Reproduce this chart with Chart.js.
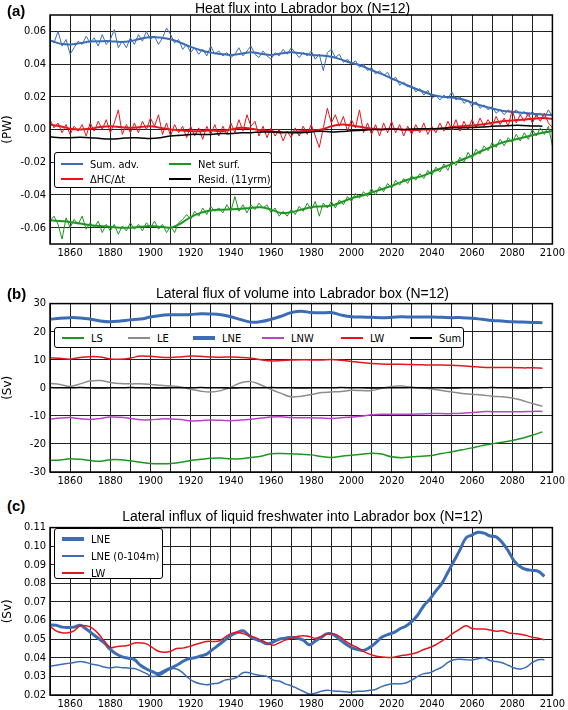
<!DOCTYPE html>
<html>
<head>
<meta charset="utf-8">
<script src="https://cdn.jsdelivr.net/npm/chart.js@4"></script>
<style>
  body { margin: 0; background: #fff; }
  #wrap { position: relative; width: 568px; height: 710px; overflow: hidden;
          font-family: "DejaVu Sans Condensed", "DejaVu Sans", sans-serif; color: #000; }
  canvas { position: absolute; left: 0; }
  .title { position: absolute; left: 50px; width: 505px; text-align: center; z-index: 2;
           font: 14px "Liberation Sans", Arial, sans-serif; line-height: 16px; }
  .tag { position: absolute; left: 7px; z-index: 2;
         font: bold 15px "Liberation Sans", Arial, sans-serif; line-height: 16px; }
  .legend { position: absolute; border: 1px solid #000; border-radius: 3px; background: #fff;
            font-size: 11px; z-index: 3; box-sizing: border-box; }
  .item { position: absolute; display: flex; align-items: center; height: 14px; white-space: nowrap; }
  .item i { display: inline-block; width: 22px; margin-right: 7px; }
</style>
</head>
<body>
<div id="wrap">
  <div class="tag" style="top:3px">(a)</div>
  <div class="title" style="top:0px">Heat flux into Labrador box (N=12)</div>
  <canvas id="chart-a" width="568" height="262" style="top:0px"></canvas>
  <div class="legend" style="left:54px;top:152px;width:218px;height:36px">
    <div class="item" style="left:6px;top:4px"><i style="background:#3c6db4;height:2px"></i>Sum. adv.</div>
    <div class="item" style="left:114px;top:4px"><i style="background:#1e9622;height:2px"></i>Net surf.</div>
    <div class="item" style="left:6px;top:19px"><i style="background:#e3161c;height:2px"></i>ΔHC/Δt</div>
    <div class="item" style="left:114px;top:19px"><i style="background:#000;height:2px"></i>Resid. (11yrm)</div>
  </div>

  <div class="tag" style="top:286px">(b)</div>
  <div class="title" style="top:285px">Lateral flux of volume into Labrador box (N=12)</div>
  <canvas id="chart-b" width="568" height="197" style="top:293px"></canvas>
  <div class="legend" style="left:54px;top:327px;width:410px;height:21px">
    <div class="item" style="left:7px;top:3px"><i style="background:#1e9622;height:2px"></i>LS</div>
    <div class="item" style="left:73px;top:3px"><i style="background:#8c8c8c;height:2px"></i>LE</div>
    <div class="item" style="left:138px;top:3px"><i style="background:#3c6db4;height:4px"></i>LNE</div>
    <div class="item" style="left:207px;top:3px"><i style="background:#b944c6;height:2px"></i>LNW</div>
    <div class="item" style="left:286px;top:3px"><i style="background:#e3161c;height:2px"></i>LW</div>
    <div class="item" style="left:355px;top:3px"><i style="background:#000;height:2px"></i>Sum</div>
  </div>

  <div class="tag" style="top:498px">(c)</div>
  <div class="title" style="top:508px">Lateral influx of liquid freshwater into Labrador box (N=12)</div>
  <canvas id="chart-c" width="568" height="193" style="top:517px"></canvas>
  <div class="legend" style="left:54px;top:528px;width:109px;height:51px">
    <div class="item" style="left:7px;top:3px"><i style="background:#3c6db4;height:4px"></i>LNE</div>
    <div class="item" style="left:7px;top:20px"><i style="background:#3c6db4;height:2px"></i>LNE (0-104m)</div>
    <div class="item" style="left:7px;top:37px"><i style="background:#e3161c;height:2px"></i>LW</div>
  </div>
</div>

<script>
'use strict';

/* ── Colours ── */
const BLUE = '#3c6db4', RED = '#e3161c', GREEN = '#1e9622',
      GREY = '#8c8c8c', PURPLE = '#b944c6', BLACK = '#000000';

/* ── Axis ticks ── */
const Y_TICKS_A = [-0.06, -0.04, -0.02, 0.00, 0.02, 0.04, 0.06];
const Y_TICKS_B = [-30, -20, -10, 0, 10, 20, 30];
const Y_TICKS_C = [0.02, 0.03, 0.04, 0.05, 0.06, 0.07, 0.08, 0.09, 0.10, 0.11];

function range(a, b, step) {
  const r = [];
  for (let y = a; y <= b; y += step) r.push(y);
  return r;
}

/* ── Years for each family of series ── */
const YEARS_A_RAW    = range(1850, 2100, 2);   // noisy series
const YEARS_A_SMOOTH = range(1850, 2100, 5);   // smoothed series
const YEARS_B        = range(1850, 2095, 5);
const YEARS_C        = range(1850, 2096, 3);

/* ============================================================
   (a) Heat flux (PW)
   ============================================================ */
const SUM_ADV_RAW = [
  .055, .053, .060, .051, .055, .046, .050, .054, .052, .057,
  .053, .056, .051, .058, .052, .055, .061, .050, .054, .050,
  .056, .052, .058, .054, .060, .055, .057, .052, .056, .062,
  .058, .053, .055, .049, .052, .047, .050, .046, .049, .045,
  .051, .046, .048, .045, .047, .044, .046, .050, .045, .048,
  .051, .046, .044, .048, .045, .043, .047, .045, .049, .046,
  .050, .047, .044, .047, .045, .048, .043, .046, .036, .047,
  .049, .044, .046, .041, .043, .040, .042, .038, .040, .036,
  .038, .034, .036, .033, .035, .030, .032, .027, .029, .026,
  .027, .023, .025, .021, .024, .019, .021, .018, .021, .019,
  .023, .018, .020, .016, .018, .014, .017, .013, .015, .012,
  .014, .010, .012, .009, .012, .010, .012, .009, .011, .008,
  .011, .008, .010, .007, .012, .008
];
const DHC_RAW = [
  .006, .001, .004, -.002, .003, -.003, .002, -.001, .003, -.004,
  .004, -.001, .005, .000, .006, -.002, .004, .012, -.003, .003,
  -.002, .004, -.002, .005, .000, .007, .002, .009, -.003, .004,
  -.004, .003, -.002, .002, -.005, .002, -.004, .001, -.006, .002,
  -.003, .003, -.004, .002, -.003, .004, -.002, .006, -.001, .009,
  .002, .005, -.004, .002, -.005, .001, -.004, .000, -.007, -.001,
  -.005, .001, -.004, .002, -.003, .003, -.004, -.011, .001, .013,
  .004, .009, .002, .008, -.001, .006, .001, .012, -.002, .004,
  -.003, .003, -.004, .004, -.002, .005, -.002, .003, -.004, .002,
  -.003, .003, -.002, .004, -.003, .002, -.002, .004, -.001, .005,
  .000, .006, -.001, .005, .000, .006, .001, .007, .002, .006,
  .002, .008, .003, .007, .002, .012, .004, .009, .005, .010,
  .004, .009, .005, .010, .004, .001
];
const NET_SURF_RAW = [
  -.056, -.053, -.058, -.067, -.054, -.060, -.055, -.058, -.053, -.061,
  -.057, -.060, -.056, -.063, -.058, -.062, -.058, -.064, -.059, -.062,
  -.057, -.061, -.058, -.062, -.057, -.060, -.056, -.061, -.058, -.063,
  -.059, -.063, -.057, -.055, -.052, -.055, -.050, -.053, -.048, -.052,
  -.047, -.050, -.048, -.051, -.046, -.050, -.041, -.050, -.046, -.051,
  -.046, -.049, -.045, -.048, -.046, -.051, -.048, -.053, -.050, -.053,
  -.049, -.052, -.047, -.050, -.045, -.049, -.044, -.053, -.045, -.048,
  -.044, -.048, -.043, -.046, -.041, -.044, -.039, -.042, -.038, -.041,
  -.036, -.040, -.035, -.038, -.033, -.036, -.031, -.034, -.030, -.033,
  -.028, -.031, -.027, -.030, -.025, -.028, -.023, -.026, -.021, -.025,
  -.019, -.022, -.017, -.020, -.014, -.018, -.012, -.015, -.010, -.013,
  -.008, -.011, -.006, -.010, -.005, -.008, -.003, -.007, -.002, -.006,
  .000, -.004, .001, -.003, .002, -.010
];

const SUM_ADV_SMOOTH = [
  .0545, .0525, .0520, .0528, .0538, .0540, .0540, .0535, .0540, .0555,
  .0565, .0562, .0552, .0530, .0505, .0485, .0470, .0462, .0456, .0463,
  .0472, .0463, .0456, .0465, .0472, .0466, .0456, .0452, .0445, .0427,
  .0407, .0390, .0362, .0340, .0312, .0285, .0258, .0235, .0212, .0200,
  .0195, .0185, .0165, .0145, .0128, .0115, .0108, .0102, .0097, .0092,
  .0088
];
const DHC_SMOOTH = [
  .0030, .0020, .0005, .0000, .0005, .0015, .0020, .0015, .0010, .0015,
  .0020, .0010, .0000, -.0005, -.0010, -.0010, -.0005, -.0010, .0000, .0010,
  .0005, -.0005, -.0010, -.0020, -.0015, -.0010, -.0005, .0000, .0020, .0030,
  .0025, .0015, .0005, .0000, .0005, .0000, -.0005, .0000, .0000, .0005,
  .0015, .0020, .0025, .0030, .0040, .0050, .0055, .0060, .0065, .0070,
  .0065
];
const NET_SURF_SMOOTH = [
  -.0555, -.0560, -.0565, -.0575, -.0585, -.0590, -.0595, -.0600, -.0600, -.0595,
  -.0590, -.0595, -.0600, -.0575, -.0535, -.0510, -.0495, -.0490, -.0488, -.0485,
  -.0480, -.0475, -.0490, -.0510, -.0505, -.0490, -.0475, -.0470, -.0465, -.0445,
  -.0420, -.0405, -.0385, -.0365, -.0345, -.0320, -.0300, -.0285, -.0260, -.0235,
  -.0210, -.0185, -.0160, -.0130, -.0105, -.0080, -.0065, -.0050, -.0035, -.0020,
  -.0010
];
const RESID_SMOOTH = [
  -.0045, -.0050, -.0050, -.0048, -.0050, -.0055, -.0058, -.0055, -.0050, -.0052,
  -.0055, -.0050, -.0040, -.0035, -.0030, -.0030, -.0030, -.0025, -.0025, -.0020,
  -.0020, -.0015, -.0015, -.0015, -.0020, -.0020, -.0015, -.0010, -.0015, -.0012,
  -.0008, -.0005, .0000, .0000, .0002, .0000, .0003, .0005, .0005, .0008,
  .0010, .0010, .0012, .0015, .0020, .0022, .0025, .0025, .0022, .0020
];

/* ============================================================
   (b) Lateral volume flux (Sv)
   ============================================================ */
const LS_B = [
  -25.9, -25.7, -25.3, -25.5, -25.9, -26.2, -25.6, -25.6, -26.0, -26.5,
  -27.0, -27.1, -27.0, -26.5, -25.9, -25.5, -25.1, -25.0, -25.3, -25.3,
  -24.8, -24.4, -23.5, -23.4, -23.5, -23.7, -23.9, -24.5, -24.8, -24.4,
  -24.0, -23.7, -23.3, -23.6, -24.6, -24.9, -24.6, -24.4, -24.1, -23.4,
  -22.8, -22.1, -21.4, -20.6, -19.9, -19.4, -18.8, -18.0, -16.9, -15.7
];
const LE_B = [
  1.5, 1.2, 0.5, 1.4, 2.4, 2.6, 1.9, 1.5, 1.4, 1.4,
  1.2, 0.9, 0.6, 0.3, -0.5, -1.2, -1.5, -1.0, 0.2, 1.8,
  2.2, 1.0, -0.6, -2.0, -3.2, -3.0, -2.4, -1.7, -1.5, -1.3,
  -0.9, -1.0, -1.0, -0.2, 0.5, 0.6, 0.1, -0.1, -0.4, -1.0,
  -1.5, -2.0, -2.3, -2.6, -3.0, -3.2, -3.6, -4.5, -5.6, -6.6
];
const LNE_B = [
  24.4, 24.8, 25.0, 24.9, 24.5, 23.8, 23.5, 23.8, 24.2, 24.5,
  25.2, 25.8, 26.0, 26.0, 26.1, 26.4, 26.3, 26.0, 25.3, 24.3,
  23.4, 23.6, 24.4, 25.5, 26.8, 27.3, 26.8, 26.7, 26.8, 25.9,
  25.3, 25.2, 25.1, 25.0, 25.1, 25.3, 25.2, 25.2, 25.2, 25.1,
  25.0, 25.0, 24.8, 24.4, 24.0, 23.8, 23.5, 23.4, 23.3, 23.2
];
const LNW_B = [
  -11.2, -10.8, -10.6, -11.0, -11.3, -10.9, -10.4, -10.5, -10.9, -11.4,
  -11.4, -11.1, -11.1, -11.3, -11.8, -11.7, -11.5, -11.6, -11.7, -11.5,
  -11.2, -10.8, -10.4, -10.3, -10.6, -10.7, -10.7, -10.8, -10.9, -10.7,
  -10.4, -10.1, -9.6, -9.4, -9.4, -9.4, -9.4, -9.3, -9.2, -9.2,
  -9.2, -9.1, -8.8, -8.5, -8.5, -8.5, -8.5, -8.5, -8.4, -8.4
];
const LW_B = [
  10.7, 10.5, 10.2, 10.8, 11.1, 11.0, 10.3, 10.2, 10.6, 11.3,
  11.2, 10.9, 10.8, 11.0, 11.3, 11.2, 11.0, 10.9, 11.0, 10.8,
  10.5, 10.0, 9.6, 9.7, 9.9, 10.0, 9.9, 9.9, 10.1, 9.8,
  9.4, 9.0, 8.7, 8.5, 8.4, 8.4, 8.3, 8.2, 8.1, 8.1,
  8.0, 7.9, 7.6, 7.3, 7.2, 7.2, 7.2, 7.1, 7.1, 7.0
];
const SUM_B = [
  0.1, 0.0, 0.0, 0.1, 0.0, -0.1, 0.0, 0.0, 0.1, 0.0,
  0.0, -0.1, 0.0, 0.0, 0.0, 0.1, 0.0, 0.0, -0.1, 0.0,
  0.0, 0.0, 0.1, 0.0, 0.0, -0.1, 0.0, 0.0, 0.0, 0.1,
  0.0, 0.0, -0.1, 0.0, 0.0, 0.0, 0.1, 0.0, 0.0, 0.0,
  -0.1, 0.0, 0.0, 0.0, 0.1, 0.0, 0.0, -0.1, 0.0, 0.0
];

/* ============================================================
   (c) Liquid freshwater influx (Sv)
   ============================================================ */
const LNE_C = [
  .0577, .0575, .0565, .0563, .0565, .0575, .0555, .053, .0505, .048,
  .0445, .042, .0405, .0398, .039, .036, .034, .0325, .0315, .033,
  .0345, .036, .038, .0395, .040, .041, .042, .0445, .047, .0495,
  .052, .0535, .0545, .052, .050, .049, .0475, .0485, .050, .0505,
  .051, .0505, .0495, .047, .049, .051, .053, .0525, .050, .0475,
  .0455, .0445, .044, .0455, .048, .051, .0525, .0535, .0555, .057,
  .0595, .063, .068, .0715, .076, .080, .086, .092, .098, .1045,
  .106, .1075, .107, .1055, .105, .102, .0975, .092, .089, .0875,
  .087, .0865, .0838
];
const LNE_TOP_C = [
  .0355, .036, .0365, .037, .0375, .038, .0375, .0365, .036, .035,
  .0345, .035, .0347, .0345, .0342, .033, .0315, .030, .0305, .032,
  .034, .034, .032, .029, .027, .026, .0255, .026, .0265, .028,
  .0285, .0295, .032, .032, .031, .0305, .030, .028, .0275, .026,
  .025, .0235, .022, .0205, .021, .022, .0225, .0222, .022, .0218,
  .0215, .022, .022, .0225, .023, .0245, .0255, .026, .026, .0265,
  .028, .030, .0315, .032, .0335, .035, .0375, .039, .0392, .039,
  .0388, .0395, .040, .0385, .038, .0373, .036, .0345, .034, .035,
  .0375, .039, .039
];
const LW_C = [
  .057, .0545, .0535, .0535, .0545, .0572, .0572, .056, .053, .049,
  .0455, .046, .0463, .0468, .048, .048, .0475, .0455, .0435, .043,
  .0435, .045, .0452, .046, .047, .048, .0488, .0488, .049, .051,
  .053, .0538, .053, .052, .051, .0495, .048, .0468, .048, .0495,
  .0505, .0515, .0518, .0515, .0505, .0515, .0528, .053, .0515, .049,
  .047, .0455, .0435, .042, .041, .0405, .0402, .0403, .041, .0415,
  .042, .043, .0445, .0455, .047, .049, .051, .0535, .0555, .0572,
  .0558, .0555, .0555, .055, .0543, .0545, .0535, .053, .0527, .052,
  .051, .0505, .0497
];

/* ============================================================
   HELPERS
   ============================================================ */
const TICK_FONT = { family: "'DejaVu Sans Condensed', 'DejaVu Sans', sans-serif", size: 11 };

function pts(years, vals) {
  return vals.map((v, i) => ({ x: years[i], y: v }));
}

function line(years, vals, color, width, smooth) {
  return {
    data: pts(years, vals),
    borderColor: color,
    borderWidth: width,
    pointRadius: 0,
    tension: smooth ? 0.4 : 0,
    fill: false,
  };
}

/* box around the plot area, like matplotlib's frame */
const framePlugin = {
  id: 'frame',
  afterDraw(chart) {
    const { ctx, chartArea: a } = chart;
    ctx.save();
    ctx.strokeStyle = '#000';
    ctx.lineWidth = 1.5;
    ctx.strokeRect(a.left, a.top, a.right - a.left, a.bottom - a.top);
    ctx.restore();
  },
};

function options(p) {
  return {
    responsive: false,
    animation: false,
    layout: { padding: { top: p.padTop, right: 13, left: 0, bottom: 0 } },
    plugins: { legend: { display: false }, tooltip: { enabled: false } },
    scales: {
      x: {
        type: 'linear', min: 1850, max: 2100,
        afterFit: s => { s.height = p.xHeight; },
        grid: { color: '#222', lineWidth: 1, drawTicks: false },
        border: { display: false },
        ticks: {
          stepSize: 10, autoSkip: false, maxRotation: 0, padding: 3,
          color: '#000', font: TICK_FONT,
          callback: v => (v % 20 === 0 ? String(v) : ''),
        },
      },
      y: {
        min: p.yMin, max: p.yMax,
        afterFit: s => { s.width = 50; },
        afterBuildTicks: s => { s.ticks = p.yTicks.map(v => ({ value: v })); },
        grid: { color: '#222', lineWidth: 1, drawTicks: false },
        border: { display: false },
        title: {
          display: true, text: p.yTitle, color: '#000', padding: { top: 1, bottom: 0 },
          font: { family: "'DejaVu Sans', sans-serif", size: 12 },
        },
        ticks: { padding: 4, color: '#000', font: TICK_FONT, callback: p.yFmt },
      },
    },
  };
}

/* ============================================================
   CHARTS  (dataset 0 is drawn on top)
   ============================================================ */
new Chart(document.getElementById('chart-a'), {
  type: 'line',
  data: {
    datasets: [
      line(YEARS_A_SMOOTH, RESID_SMOOTH, BLACK, 1.5, true),
      line(YEARS_A_SMOOTH, DHC_SMOOTH, RED, 2, true),
      line(YEARS_A_RAW, DHC_RAW, RED, 1, false),
      line(YEARS_A_SMOOTH, NET_SURF_SMOOTH, GREEN, 2, true),
      line(YEARS_A_RAW, NET_SURF_RAW, GREEN, 1, false),
      line(YEARS_A_SMOOTH, SUM_ADV_SMOOTH, BLUE, 2, true),
      line(YEARS_A_RAW, SUM_ADV_RAW, BLUE, 1, false),
    ],
  },
  options: options({
    padTop: 15, xHeight: 18, yMin: -0.07, yMax: 0.07, yTicks: Y_TICKS_A,
    yTitle: '(PW)', yFmt: v => v.toFixed(2),
  }),
  plugins: [framePlugin],
});

new Chart(document.getElementById('chart-b'), {
  type: 'line',
  data: {
    datasets: [
      line(YEARS_B, SUM_B, BLACK, 1.5, true),
      line(YEARS_B, LW_B, RED, 1.5, true),
      line(YEARS_B, LNW_B, PURPLE, 1.5, true),
      line(YEARS_B, LNE_B, BLUE, 3, true),
      line(YEARS_B, LE_B, GREY, 1.5, true),
      line(YEARS_B, LS_B, GREEN, 1.5, true),
    ],
  },
  options: options({
    padTop: 8, xHeight: 18, yMin: -30, yMax: 30, yTicks: Y_TICKS_B,
    yTitle: '(Sv)', yFmt: v => String(v),
  }),
  plugins: [framePlugin],
});

new Chart(document.getElementById('chart-c'), {
  type: 'line',
  data: {
    datasets: [
      line(YEARS_C, LW_C, RED, 1.5, true),
      line(YEARS_C, LNE_TOP_C, BLUE, 1.5, true),
      line(YEARS_C, LNE_C, BLUE, 3, true),
    ],
  },
  options: options({
    padTop: 8, xHeight: 15, yMin: 0.02, yMax: 0.11, yTicks: Y_TICKS_C,
    yTitle: '(Sv)', yFmt: v => v.toFixed(2),
  }),
  plugins: [framePlugin],
});
</script>
</body>
</html>
